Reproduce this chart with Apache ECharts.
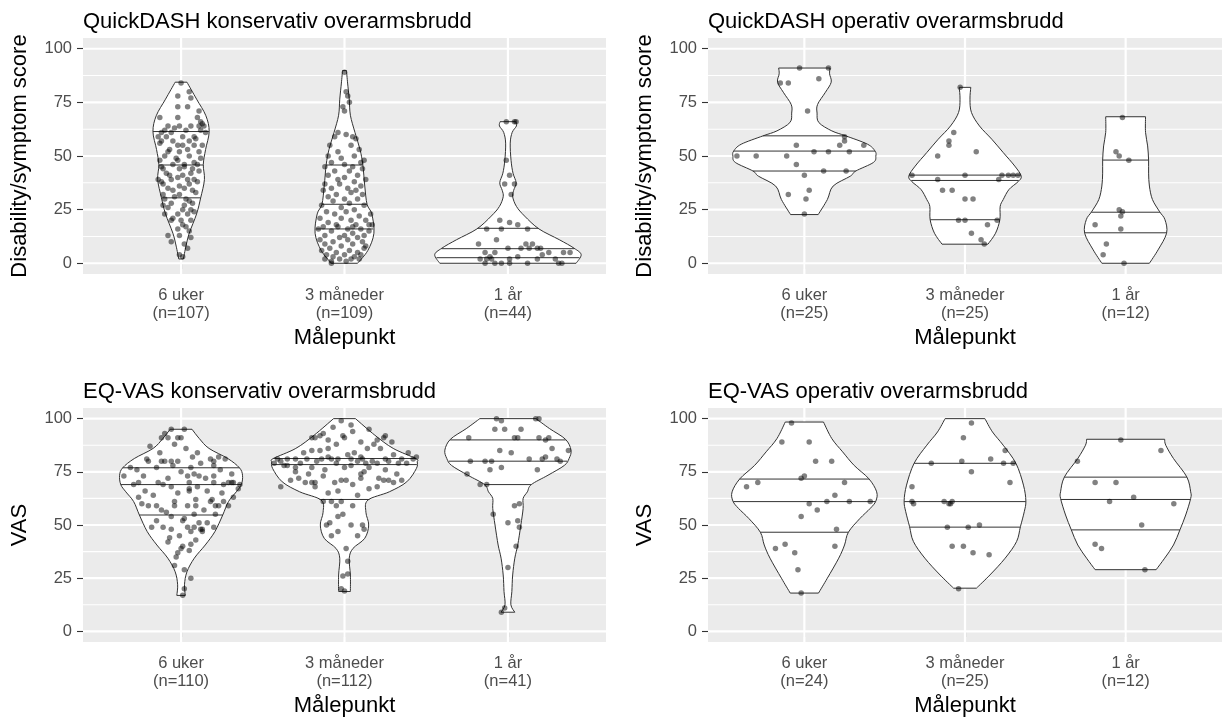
<!DOCTYPE html>
<html><head><meta charset="utf-8">
<script src="https://cdn.jsdelivr.net/npm/echarts@6/dist/echarts.min.js"></script>
<style>html,body{margin:0;padding:0;background:#fff;overflow:hidden}#c{width:1222px;height:718px}</style>
</head><body><div id="c"></div>
<script>
// ---------- data ----------
const CATEGORIES = ['6 uker', '3 måneder', '1 år'];
const Y_TICKS = [0, 25, 50, 75, 100];
const Y_MINOR = [12.5, 37.5, 62.5, 87.5];
const X_NAME = 'Målepunkt';
const TITLES = ['QuickDASH konservativ overarmsbrudd', 'QuickDASH operativ overarmsbrudd', 'EQ-VAS konservativ overarmsbrudd', 'EQ-VAS operativ overarmsbrudd'];
const Y_NAMES = ['Disability/symptom score', 'Disability/symptom score', 'VAS', 'VAS'];

const QD_KONS_N = [107, 109, 44];
const QD_OP_N = [25, 25, 12];
const VAS_KONS_N = [110, 112, 41];
const VAS_OP_N = [24, 25, 12];

// violin outlines: [value, half-width in category units]
const QD_KONS_PROFILES = [
  [[2,0.014],[8,0.03],[14,0.05],[23,0.095],[30.5,0.12],[39,0.143],[46,0.136],[53,0.15],[61.4,0.172],[68.75,0.152],[76.5,0.095],[84.4,0.036]],
  [[0,0.08],[6,0.143],[14,0.18],[23,0.167],[27.5,0.138],[36,0.124],[46,0.112],[53,0.095],[61,0.064],[69,0.036],[76.5,0.029],[84,0.019],[89.8,0.012]],
  [[0,0.417],[4,0.448],[7,0.405],[11,0.314],[16,0.19],[22,0.102],[26.5,0.052],[31,0.029],[34,0.035],[37.5,0.05],[42,0.031],[48,0.019],[56,0.014],[61,0.026],[64,0.052],[66,0.048]]
];
const QD_OP_PROFILES = [
  [[22.7,0.086],[29.7,0.143],[36,0.179],[40.6,0.286],[43,0.32],[47,0.43],[50,0.445],[52.3,0.44],[55.5,0.393],[59.4,0.257],[61.7,0.171],[65.6,0.09],[70,0.079],[74,0.082],[79.7,0.131],[84.4,0.167],[88.3,0.157],[91,0.16]],
  [[8.9,0.143],[14,0.19],[20.3,0.217],[26.5,0.219],[29.7,0.238],[34.4,0.274],[38,0.33],[40.6,0.35],[45.3,0.31],[51.6,0.238],[57.8,0.167],[64,0.09],[70.3,0.04],[76.5,0.031],[82,0.036]],
  [[0,0.148],[6.25,0.202],[14,0.255],[20.3,0.245],[24,0.212],[29.7,0.167],[36,0.148],[42,0.143],[48.1,0.143],[54.7,0.137],[61,0.124],[68.3,0.124]]
];
const VAS_KONS_PROFILES = [
  [[16.9,0.026],[21.9,0.021],[28,0.036],[34.4,0.081],[40.6,0.148],[46.9,0.207],[54.7,0.255],[61,0.29],[65.6,0.338],[69,0.369],[73.4,0.376],[76.9,0.357],[81.25,0.286],[86,0.171],[90.6,0.112],[95,0.067]],
  [[18.75,0.036],[26.5,0.036],[34.4,0.029],[39,0.052],[43.75,0.124],[50,0.148],[56,0.131],[61.7,0.143],[65.6,0.274],[70.3,0.381],[76.6,0.44],[79.7,0.445],[81.25,0.436],[86,0.298],[92.2,0.186],[100,0.067]],
  [[9,0.042],[12.5,0.018],[18.75,0.024],[26.5,0.029],[34.4,0.042],[40.6,0.06],[50,0.079],[57.8,0.093],[62.5,0.093],[65.6,0.119],[69,0.143],[73.4,0.245],[78,0.345],[81.25,0.374],[85.2,0.386],[90.3,0.352],[95.3,0.255],[100,0.172]]
];
const VAS_OP_PROFILES = [
  [[18,0.088],[25,0.143],[34.4,0.214],[40.6,0.25],[46.6,0.274],[53,0.345],[57.8,0.41],[61.25,0.445],[65.6,0.45],[71.7,0.402],[78,0.31],[84.4,0.238],[90.6,0.171],[98.4,0.119]],
  [[20.3,0.071],[26.5,0.155],[34.4,0.25],[42.2,0.321],[49.2,0.345],[56.25,0.369],[61.25,0.379],[68.75,0.364],[79,0.317],[87.5,0.238],[93.75,0.171],[100,0.124]],
  [[29,0.19],[34.4,0.243],[40.6,0.298],[47.7,0.338],[54.7,0.374],[62.5,0.405],[65.6,0.405],[72.6,0.381],[81.25,0.298],[87.5,0.25],[90.3,0.243]]
];

// quartile lines (25%, 50%, 75%)
const QD_KONS_QUANTILES = [[30.5,45.8,61.4],[16,27.5,45.8],[2.6,6.8,16.3]];
const QD_OP_QUANTILES = [[43,52.3,59.4],[20.3,38.6,41.1],[14.2,23.8,48.1]];
const VAS_KONS_QUANTILES = [[54.7,69,76.9],[62,78.4,81.25],[69,80,90]];
const VAS_OP_QUANTILES = [[46.6,61,71.6],[49,61,79],[47.7,62,72.5]];

// points: [horizontal offset from category, value]
const QD_KONS_POINTS = [
  [[0.00,84],[0.05,80],[-0.02,78],[0.06,77],[-0.02,73],[0.04,73],[0.11,71],[-0.13,68],[-0.02,68],[0.10,68],[0.12,66],[0.13,65],[-0.08,64],[-0.01,64],[0.06,64],[0.11,64],[0.14,64],[-0.12,61],[-0.06,61],[0.15,61],[-0.14,59],[-0.09,59],[0.01,59],[0.08,59],[-0.12,57],[-0.05,57],[0.05,57],[-0.02,55],[0.01,55],[0.08,55],[-0.08,52],[-0.01,52],[0.11,52],[-0.10,50],[0.05,50],[-0.13,48],[-0.02,48],[-0.05,46],[0.02,46],[0.10,46],[-0.11,44],[-0.01,44],[0.07,44],[-0.07,41],[0.01,41],[-0.14,39],[-0.06,39],[0.04,39],[0.08,39],[-0.11,37],[-0.01,36],[0.05,37],[-0.05,34],[0.07,34],[-0.11,32],[-0.01,32],[-0.10,30],[0.03,30],[-0.06,28],[0.07,28],[-0.08,26],[0.01,25],[0.06,25],[-0.10,23],[-0.02,23],[0.04,23],[-0.06,20],[0.00,20],[0.06,20],[0.01,18],[-0.02,16],[0.05,15],[-0.08,13],[-0.01,13],[0.06,12],[0.02,9],[0.04,7],[-0.01,4],[0.01,3],
   [0.12,62],[-0.10,62],[0.03,62],[-0.04,63],[0.09,58],[-0.13,56],[0.13,55],[-0.07,53],[0.04,53],[0.12,49],[-0.03,49],[0.08,47],[-0.12,45],[0.02,45],[0.11,43],[-0.09,42],[0.06,42],[-0.02,40],[0.10,38],[-0.12,38],[0.02,35],[-0.08,35],[0.09,33],[-0.04,31],[0.05,29],[-0.11,27],[0.02,27],[0.08,24],[-0.05,21],[0.03,17],[-0.06,10]],
  [[0.00,89],[0.01,80],[0.02,78],[-0.01,73],[0.00,71],[0.03,75],[-0.04,61],[0.01,60],[-0.06,59],[0.05,59],[0.07,58],[-0.09,55],[0.04,55],[0.09,53],[-0.04,52],[0.06,50],[-0.10,50],[-0.02,49],[0.12,48],[0.10,47],[-0.08,47],[0.00,46],[-0.12,45],[0.05,45],[0.11,44],[-0.06,43],[0.03,43],[-0.10,41],[0.08,41],[0.00,40],[-0.04,39],[0.13,39],[0.06,38],[-0.12,37],[-0.03,37],[0.10,36],[-0.08,35],[0.02,35],[0.07,34],[-0.13,34],[0.04,33],[-0.05,32],[0.11,32],[-0.10,31],[0.00,30],[0.08,30],[-0.07,29],[0.03,28],[-0.14,27],[0.12,27],[-0.02,26],[0.06,25],[-0.11,24],[0.01,24],[0.16,23],[-0.06,23],[0.09,22],[-0.15,21],[-0.02,21],[0.13,20],[0.04,20],[-0.10,19],[0.17,18],[0.07,18],[-0.13,17],[-0.04,17],[0.10,16],[-0.16,16],[0.02,16],[0.15,15],[-0.08,15],[0.05,14],[-0.12,13],[0.12,13],[-0.03,12],[0.08,12],[-0.15,11],[0.02,11],[0.11,10],[-0.07,10],[-0.12,9],[0.05,9],[0.13,8],[-0.02,8],[-0.09,7],[0.12,7],[0.03,6],[-0.14,6],[0.08,5],[-0.05,5],[0.10,4],[-0.11,4],[0.00,4],[-0.07,3],[0.06,3],[-0.12,2],[-0.03,2],[0.04,2],[0.09,2],[-0.08,1],[0.01,1],[-0.08,0],[0.05,17],[-0.05,18],[0.15,18],[0.00,13]],
  [[-0.01,66],[0.04,66],[0.05,66],[-0.01,48],[0.01,41],[-0.02,37],[0.04,37],[0.02,32],[-0.05,20],[0.01,19],[0.06,18],[-0.13,16],[-0.04,16],[0.12,16],[-0.07,11],[-0.18,9],[0.11,9],[0.00,7],[0.13,7],[0.18,7],[0.20,7],[0.08,7],[-0.14,5],[-0.08,5],[0.25,5],[0.34,5],[0.38,5],[-0.17,2],[-0.13,2],[-0.10,2],[0.01,2],[0.18,2],[0.29,2],[-0.14,0],[-0.08,0],[0.01,0],[0.31,0],[0.33,0],[0.12,0],[-0.04,0],[0.21,4],[-0.11,3],[0.06,3],[0.15,9]]
];
const QD_OP_POINTS = [
  [[-0.03,91],[0.15,91],[0.09,86],[-0.15,84],[-0.10,84],[0.02,71],[0.25,59],[0.25,57],[0.22,55],[0.37,55],[-0.05,55],[-0.42,50],[-0.30,50],[-0.11,50],[0.06,52],[0.15,52],[0.28,52],[-0.05,46],[0.12,43],[0.26,43],[0.00,41],[0.03,34],[-0.10,32],[0.01,30],[0.00,23]],
  [[-0.03,82],[-0.07,61],[-0.10,57],[-0.10,55],[-0.17,50],[0.07,52],[-0.33,41],[0.00,41],[0.23,41],[0.27,41],[0.33,41],[0.30,41],[-0.17,39],[0.21,39],[-0.14,34],[-0.08,34],[0.00,30],[0.05,30],[-0.04,20],[0.00,20],[0.20,20],[0.14,18],[0.04,14],[0.10,11],[0.12,9]],
  [[-0.02,68],[-0.06,52],[-0.04,50],[0.02,48],[-0.04,25],[-0.02,24],[-0.03,22],[-0.19,18],[-0.03,16],[-0.12,9],[-0.14,4],[-0.01,0]]
];
const VAS_KONS_POINTS = [
  [[0.01,17],[0.02,20],[-0.04,31],[0.02,29],[-0.02,37],[0.00,39],[0.05,38],[0.01,40],[0.06,41],[-0.08,42],[-0.01,45],[0.04,49],[-0.18,49],[-0.11,49],[-0.06,48],[0.08,49],[0.13,48],[0.20,49],[0.01,52],[0.11,51],[0.12,48],[-0.06,54],[0.08,55],[0.21,59],[0.18,61],[0.23,59],[-0.20,59],[-0.15,59],[-0.24,60],[-0.04,61],[0.04,59],[0.09,59],[-0.04,59],[0.26,61],[-0.26,63],[0.19,62],[-0.11,69],[-0.06,68],[0.05,67],[0.05,66],[-0.29,69],[-0.26,70],[-0.14,70],[0.20,70],[0.26,69],[0.29,70],[0.31,70],[0.35,67],[0.36,69],[-0.35,73],[0.05,70],[0.04,73],[0.08,74],[0.11,73],[0.20,73],[0.31,74],[-0.31,77],[0.06,77],[0.20,78],[0.20,80],[0.18,81],[0.23,82],[0.27,81],[-0.21,81],[-0.12,80],[-0.10,80],[-0.06,80],[-0.02,80],[0.10,84],[-0.19,87],[-0.12,91],[-0.08,91],[-0.02,91],[0.00,91],[-0.06,95],[0.02,95],[-0.10,93],[-0.20,80],[-0.23,73],[0.32,70],[0.32,63],[0.29,59],[0.21,55],[0.13,47],[0.06,47],
   [-0.09,56],[0.14,57],[-0.17,64],[0.16,66],[-0.02,65],[0.25,65],[-0.22,66],[0.10,68],[-0.08,72],[0.15,72],[0.00,75],[-0.27,76],[0.24,76],[-0.15,77],[0.12,79],[-0.05,78],[0.07,82],[-0.13,84],[0.03,86],[-0.04,88],[0.09,62],[-0.12,57],[0.02,53],[-0.15,52],[0.16,51],[-0.07,44],[0.09,43],[-0.03,35],[0.06,25]],
  [[0.00,19],[-0.02,20],[-0.01,26],[0.02,27],[0.02,33],[0.01,39],[-0.08,45],[0.08,45],[-0.11,50],[-0.09,51],[0.04,50],[0.11,50],[0.12,48],[-0.04,47],[-0.01,55],[-0.04,54],[-0.05,59],[-0.08,61],[-0.02,61],[0.05,59],[-0.13,61],[-0.04,66],
   [-0.39,68],[-0.33,71],[-0.24,70],[-0.20,70],[-0.18,70],[-0.13,73],[-0.06,70],[-0.02,71],[0.01,71],[0.10,72],[0.21,72],[0.24,71],[0.27,71],[0.30,70],[-0.41,81],[-0.39,80],[-0.37,78],[-0.35,81],[-0.30,81],[-0.23,81],[-0.14,81],[-0.08,81],[-0.04,81],[0.04,81],[0.11,81],[0.25,81],[0.35,81],[0.42,81],[-0.43,79],[-0.30,77],[-0.20,77],[0.04,78],[0.13,79],[0.17,80],[0.27,80],[0.33,79],[0.12,75],[0.10,74],[-0.25,84],[-0.15,85],[-0.10,86],[0.06,84],[0.14,86],[0.18,88],[0.20,90],[0.24,91],[-0.20,91],[-0.18,91],[-0.15,92],[-0.13,93],[-0.01,92],[0.00,91],[0.04,97],[0.25,92],[0.29,89],[0.39,84],[0.44,82],
   [-0.30,75],[-0.22,74],[-0.12,76],[0.00,77],[0.15,77],[0.25,76],[0.32,74],[-0.35,78],[-0.27,79],[-0.17,80],[-0.05,79],[0.08,80],[0.20,79],[0.38,79],[-0.10,82],[0.02,83],[0.10,82],[0.30,83],[-0.20,85],[0.22,86],[-0.05,88],[0.10,89],[-0.10,90],[0.05,94],[-0.07,96],[0.15,95],[-0.02,99],[0.08,64],[-0.10,65],[0.15,67],[-0.18,68],[0.05,69],[0.20,68],[-0.28,72],[0.35,71]],
  [[-0.04,9],[-0.02,11],[0.00,30],[0.05,40],[0.07,49],[0.00,51],[-0.09,55],[0.04,59],[0.07,60],[-0.17,69],[-0.25,74],[-0.23,80],[-0.14,80],[-0.04,77],[-0.11,76],[-0.05,85],[0.02,84],[0.04,91],[0.06,91],[-0.24,91],[-0.02,95],[-0.08,95],[-0.07,100],[-0.04,99],[0.08,95],[0.13,81],[0.21,81],[0.23,82],[0.27,86],[0.30,81],[0.19,91],[0.23,90],[0.25,91],[0.18,76],[0.32,80],[0.37,85],[0.19,100],[0.17,100],[-0.10,80],[0.06,52],[-0.13,69]]
];
const VAS_OP_POINTS = [
  [[-0.08,98],[-0.14,89],[0.03,89],[0.07,80],[0.17,80],[0.00,73],[-0.02,72],[-0.36,68],[-0.29,70],[0.25,70],[0.19,64],[0.03,60],[0.14,61],[0.28,61],[0.41,61],[0.08,57],[-0.02,54],[0.20,48],[-0.12,41],[-0.18,39],[-0.06,37],[0.19,40],[-0.04,29],[-0.02,18]],
  [[0.04,98],[-0.01,91],[-0.02,80],[0.16,81],[0.25,85],[0.30,79],[-0.21,79],[0.04,75],[0.28,70],[-0.33,68],[-0.33,61],[-0.32,60],[-0.13,61],[-0.10,60],[-0.08,61],[-0.11,49],[0.02,49],[0.09,50],[-0.08,40],[-0.01,40],[0.05,37],[0.15,36],[-0.04,20],[0.24,79],[-0.09,60]],
  [[-0.03,90],[0.22,85],[-0.30,80],[-0.19,70],[-0.06,70],[0.05,63],[-0.10,61],[0.30,60],[0.10,50],[-0.19,41],[-0.15,39],[0.12,29]]
];

const PANELS = [
  {profiles: QD_KONS_PROFILES, quantiles: QD_KONS_QUANTILES, points: QD_KONS_POINTS, n: QD_KONS_N},
  {profiles: QD_OP_PROFILES, quantiles: QD_OP_QUANTILES, points: QD_OP_POINTS, n: QD_OP_N},
  {profiles: VAS_KONS_PROFILES, quantiles: VAS_KONS_QUANTILES, points: VAS_KONS_POINTS, n: VAS_KONS_N},
  {profiles: VAS_OP_PROFILES, quantiles: VAS_OP_QUANTILES, points: VAS_OP_POINTS, n: VAS_OP_N}
];

// ---------- layout ----------
const FONT = '"Liberation Sans", Arial, sans-serif';
const GRIDS = [
  {left: 83, top: 38, width: 523, height: 236},
  {left: 708, top: 38, width: 523, height: 236},
  {left: 83, top: 408, width: 523, height: 236},
  {left: 708, top: 408, width: 523, height: 236}
];
const TITLE_TOPS = [11, 11, 381, 381];

function catmull(p) {
  let s = '';
  for (let i = 0; i < p.length - 1; i++) {
    const p0 = p[i - 1] || p[i], p1 = p[i], p2 = p[i + 1], p3 = p[i + 2] || p[i + 1];
    const c1 = [p1[0] + (p2[0] - p0[0]) / 6, p1[1] + (p2[1] - p0[1]) / 6];
    const c2 = [p2[0] - (p3[0] - p1[0]) / 6, p2[1] - (p3[1] - p1[1]) / 6];
    s += 'C' + c1[0] + ',' + c1[1] + ' ' + c2[0] + ',' + c2[1] + ' ' + p2[0] + ',' + p2[1];
  }
  return s;
}
function halfWidthAt(prof, v) {
  for (let i = 0; i < prof.length - 1; i++) {
    const a = prof[i], b = prof[i + 1];
    if (v >= a[0] && v <= b[0]) return a[1] + (b[1] - a[1]) * (v - a[0]) / (b[0] - a[0]);
  }
  return v < prof[0][0] ? prof[0][1] : prof[prof.length - 1][1];
}

const series = [];
const xAxes = [], yAxes = [], titles = [];
PANELS.forEach((P, gi) => {
  titles.push({text: TITLES[gi], left: GRIDS[gi].left, top: TITLE_TOPS[gi], padding: 0,
    textStyle: {fontSize: 22, fontWeight: 'normal', color: '#000', fontFamily: FONT}});
  xAxes.push({gridIndex: gi, type: 'value', min: 0.4, max: 3.6,
    axisLine: {show: false}, splitLine: {show: false},
    axisTick: {show: true, customValues: [1, 2, 3], length: 6, lineStyle: {color: '#333', width: 1.1}},
    axisLabel: {customValues: [1, 2, 3], color: '#4D4D4D', fontSize: 16.5, lineHeight: 18, margin: 12, fontFamily: FONT,
      formatter: v => CATEGORIES[Math.round(v) - 1] + '\n(n=' + P.n[Math.round(v) - 1] + ')'},
    name: X_NAME, nameLocation: 'middle', nameGap: 53,
    nameTextStyle: {fontSize: 22, color: '#000', fontFamily: FONT}});
  yAxes.push({gridIndex: gi, type: 'value', min: -5, max: 105,
    axisLine: {show: false}, splitLine: {show: false},
    axisTick: {show: true, customValues: Y_TICKS, length: 6, lineStyle: {color: '#333', width: 1.1}},
    axisLabel: {customValues: Y_TICKS, color: '#4D4D4D', fontSize: 16.5, margin: 11, fontFamily: FONT},
    name: Y_NAMES[gi], nameLocation: 'middle', nameGap: 52,
    nameTextStyle: {fontSize: 22, color: '#000', fontFamily: FONT}});

  // panel grid lines
  series.push({type: 'custom', xAxisIndex: gi, yAxisIndex: gi, z: 1, silent: true,
    data: [[2, 50]],
    renderItem: (params, api) => {
      const cs = params.coordSys;
      const ch = [];
      Y_MINOR.forEach(v => { const y = api.coord([2, v])[1];
        ch.push({type: 'line', shape: {x1: cs.x, y1: y, x2: cs.x + cs.width, y2: y}, style: {stroke: '#fff', lineWidth: 1.1}}); });
      Y_TICKS.forEach(v => { const y = api.coord([2, v])[1];
        ch.push({type: 'line', shape: {x1: cs.x, y1: y, x2: cs.x + cs.width, y2: y}, style: {stroke: '#fff', lineWidth: 2.2}}); });
      [1, 2, 3].forEach(c => { const x = api.coord([c, 50])[0];
        ch.push({type: 'line', shape: {x1: x, y1: cs.y, x2: x, y2: cs.y + cs.height}, style: {stroke: '#fff', lineWidth: 2.2}}); });
      return {type: 'group', children: ch};
    }});

  // violins
  series.push({type: 'custom', xAxisIndex: gi, yAxisIndex: gi, z: 2, silent: true,
    data: [[1, 50], [2, 50], [3, 50]],
    renderItem: (params, api) => {
      const i = params.dataIndex;
      const cat = api.value(0);
      const prof = P.profiles[i];
      const right = prof.map(([v, w]) => api.coord([cat + w, v]));
      const left = prof.map(([v, w]) => api.coord([cat - w, v])).reverse();
      let d = 'M' + left[left.length - 1][0] + ',' + left[left.length - 1][1];
      d += 'L' + right[0][0] + ',' + right[0][1];
      d += catmull(right);
      d += 'L' + left[0][0] + ',' + left[0][1];
      d += catmull(left) + 'Z';
      const ch = [{type: 'path', shape: {pathData: d}, style: {fill: '#fff', stroke: '#333', lineWidth: 1}}];
      P.quantiles[i].forEach(q => {
        const w = halfWidthAt(prof, q);
        const a = api.coord([cat - w, q]), b = api.coord([cat + w, q]);
        ch.push({type: 'line', shape: {x1: a[0], y1: a[1], x2: b[0], y2: b[1]}, style: {stroke: '#333', lineWidth: 1}});
      });
      return {type: 'group', children: ch};
    }});

  // jittered points
  const pts = [];
  P.points.forEach((arr, ci) => arr.forEach(([dx, v]) => pts.push([ci + 1 + dx, v])));
  series.push({type: 'scatter', xAxisIndex: gi, yAxisIndex: gi, z: 3, silent: true,
    symbolSize: 5.5, itemStyle: {color: 'rgba(0,0,0,0.62)'}, data: pts});
});

const chart = echarts.init(document.getElementById('c'), null, {renderer: 'canvas'});
chart.setOption({
  animation: false,
  backgroundColor: '#fff',
  title: titles,
  grid: GRIDS.map(g => Object.assign({show: true, backgroundColor: '#EBEBEB', borderWidth: 0}, g)),
  xAxis: xAxes,
  yAxis: yAxes,
  series: series
});
</script>
</body></html>
